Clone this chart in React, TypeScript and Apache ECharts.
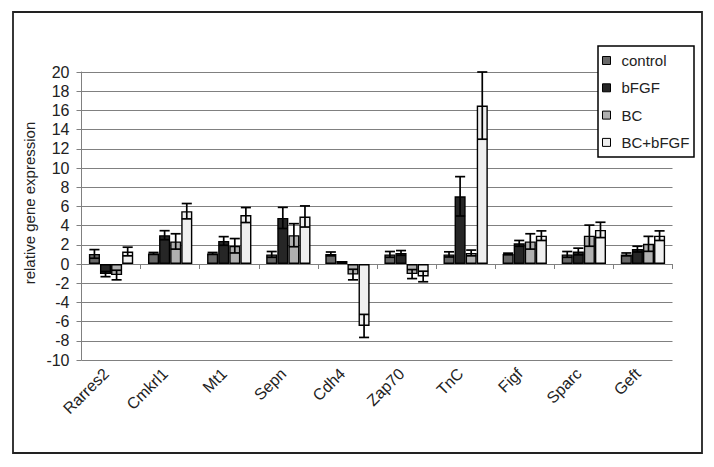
import React, { useEffect, useRef } from "react";
import * as echarts from "echarts";

const categories = ["Rarres2", "Cmkrl1", "Mt1", "Sepn", "Cdh4", "Zap70", "TnC", "Figf", "Sparc", "Geft"];
const seriesNames = ["control", "bFGF", "BC", "BC+bFGF"];

const control = [1.05, 1.1, 1.1, 1.0, 1.05, 1.0, 1.0, 1.05, 1.0, 1.0];
const controlErr = [0.45, 0.1, 0.1, 0.3, 0.2, 0.3, 0.27, 0.08, 0.3, 0.15];

const bFGF = [-1.05, 3.0, 2.4, 4.8, 0.3, 1.15, 7.05, 2.15, 1.3, 1.55];
const bFGFErr = [0.27, 0.47, 0.45, 1.1, 0, 0.25, 2.05, 0.3, 0.35, 0.3];

const BC = [-1.15, 2.35, 1.9, 3.0, -1.1, -1.05, 1.15, 2.35, 2.95, 2.1];
const BCErr = [0.5, 0.8, 0.75, 1.2, 0.55, 0.47, 0.3, 0.8, 1.1, 0.78];

const BCbFGF = [1.3, 5.5, 5.1, 4.95, -6.45, -1.3, 16.5, 2.95, 3.55, 2.95];
const BCbFGFErr = [0.45, 0.8, 0.78, 1.1, 1.2, 0.55, 3.5, 0.5, 0.8, 0.5];

const yTicks = { min: -10, max: 20, interval: 2 };

const colors = ["#686868", "#262626", "#b0b0b0", "#efefef"];
const FONT = "'Liberation Sans', Arial, sans-serif";

export default function App() {
  const ref = useRef<HTMLDivElement>(null);

  useEffect(() => {
    if (!ref.current) return;
    const chart = echarts.init(ref.current, null, { renderer: "svg" });
    const values = [control, bFGF, BC, BCbFGF];
    const errs = [controlErr, bFGFErr, BCErr, BCbFGFErr];

    const barSeries = seriesNames.map((name, i) => ({
      name,
      type: "bar",
      xAxisIndex: 0,
      yAxisIndex: 0,
      data: values[i],
      barGap: "0%",
      barCategoryGap: "25%",
      z: 2,
      itemStyle: { color: colors[i], borderColor: "#000", borderWidth: 1.4 },
    }));

    const errSeries = seriesNames.map((name, si) => ({
      type: "custom",
      name: name + "-err",
      xAxisIndex: 0,
      yAxisIndex: 0,
      z: 5,
      silent: true,
      data: values[si].map((v, k) => [k, v, errs[si][k]]),
      renderItem: (params: any, api: any) => {
        const x = api.value(0);
        const v = api.value(1);
        const e = api.value(2);
        if (!e) return { type: "group", children: [] };
        const base = api.coord([x, v]);
        const top = api.coord([x, v + e]);
        const bot = api.coord([x, v - e]);
        const band = api.size([1, 0])[0];
        const bw = (band * 0.75) / 4;
        const cx = base[0] + (si - 1.5) * bw;
        const half = bw / 2 - 0.5;
        const st = { stroke: "#000", lineWidth: 1.7 };
        return {
          type: "group",
          children: [
            { type: "line", shape: { x1: cx, y1: top[1], x2: cx, y2: bot[1] }, style: st },
            { type: "line", shape: { x1: cx - half, y1: top[1], x2: cx + half, y2: top[1] }, style: st },
            { type: "line", shape: { x1: cx - half, y1: bot[1], x2: cx + half, y2: bot[1] }, style: st },
          ],
        };
      },
    }));

    chart.setOption({
      animation: false,
      backgroundColor: "#fff",
      textStyle: { fontFamily: FONT },
      grid: [
        { left: 81.5, right: 41.5, top: 72, bottom: 107, containLabel: false },
        { left: 76.5, right: 46.5, top: 72, bottom: 107, containLabel: false },
      ],
      legend: {
        orient: "vertical",
        left: 602,
        top: 53,
        padding: 0,
        itemGap: 12.3,
        itemWidth: 20,
        itemHeight: 8,
        icon: "path://M0,0L1,0L1,1L0,1Z",
        itemStyle: { borderColor: "#000", borderWidth: 1 },
        textStyle: { fontSize: 15, lineHeight: 15, color: "#222", fontFamily: FONT },
        data: seriesNames,
        selectedMode: false,
      },
      xAxis: [
        {
          type: "category",
          gridIndex: 0,
          data: categories,
          position: "top",
          boundaryGap: true,
          axisLine: { show: true, onZero: true, lineStyle: { color: "#808080", width: 1 } },
          axisTick: { show: true, inside: true, length: 5, lineStyle: { color: "#808080" } },
          axisLabel: { show: false },
          splitLine: { show: false },
        },
        {
          type: "category",
          gridIndex: 1,
          data: categories,
          position: "bottom",
          boundaryGap: true,
          axisLine: { show: false, onZero: false },
          axisTick: { show: false },
          axisLabel: { show: true, rotate: 45, margin: 11, fontSize: 16, color: "#222", fontFamily: FONT, interval: 0 },
          splitLine: { show: false },
        },
      ],
      yAxis: [
        {
          type: "value",
          gridIndex: 0,
          min: yTicks.min,
          max: yTicks.max,
          interval: yTicks.interval,
          axisLine: { show: true, lineStyle: { color: "#808080", width: 1 } },
          axisTick: { show: true, length: 5, lineStyle: { color: "#808080" } },
          axisLabel: { fontSize: 16, color: "#222", margin: 12, fontFamily: FONT },
          splitLine: { show: true, lineStyle: { color: "#808080", width: 1 } },
        },
        {
          type: "value",
          gridIndex: 1,
          min: yTicks.min,
          max: yTicks.max,
          interval: yTicks.interval,
          show: false,
          splitLine: { show: false },
        },
      ],
      graphic: [
        {
          type: "rect",
          z: 10,
          shape: { x: 13, y: 12, width: 689, height: 441 },
          style: { fill: "none", stroke: "#222", lineWidth: 1.8 },
        },
        {
          type: "rect",
          z: 3,
          shape: { x: 598, y: 46, width: 96, height: 111 },
          style: { fill: "#fff", stroke: "#000", lineWidth: 1.5 },
        },
        {
          type: "text",
          z: 10,
          x: 29,
          y: 203,
          rotation: Math.PI / 2,
          style: {
            text: "relative gene expression",
            fontSize: 15,
            fontFamily: FONT,
            fill: "#222",
            textAlign: "center",
            textVerticalAlign: "middle",
          },
        },
      ],
      series: [...barSeries, ...errSeries],
    });

    return () => chart.dispose();
  }, []);

  return (
    <div
      ref={ref}
      style={{ position: "absolute", left: 0, top: 0, width: 714, height: 467, background: "#fff" }}
    />
  );
}
